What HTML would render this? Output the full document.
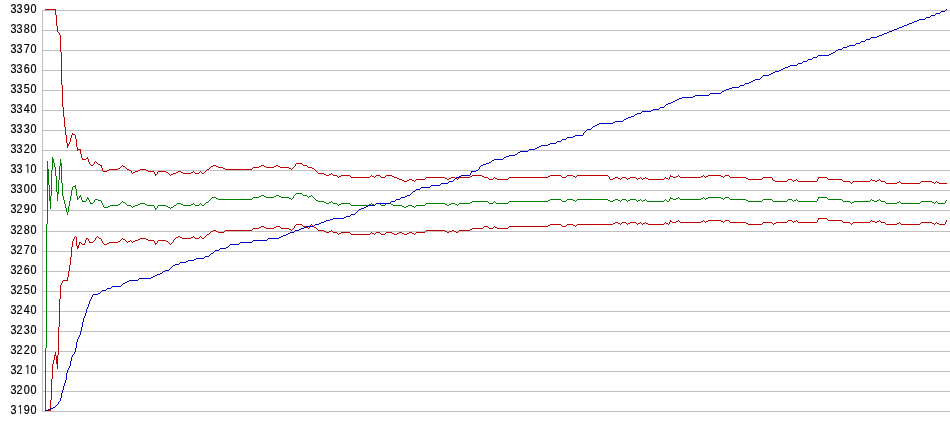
<!DOCTYPE html>
<html><head><meta charset="utf-8"><title>Chart</title>
<style>
html,body{margin:0;padding:0;background:#fff;}
body{width:950px;height:435px;overflow:hidden;}
svg{display:block;}
text{font-family:"Liberation Sans",Arial,sans-serif;font-size:12px;fill:#000;}
.one{font-family:"NanumGothic","Liberation Sans",sans-serif;}
</style></head>
<body>
<svg width="950" height="435" viewBox="0 0 950 435" shape-rendering="crispEdges">
<rect x="0" y="0" width="950" height="435" fill="#fff"/>
<path fill="#c0c0c0" d="M42 10h908v1h-908zM42 30h908v1h-908zM42 50h908v1h-908zM42 70h908v1h-908zM42 90h908v1h-908zM42 110h908v1h-908zM42 130h908v1h-908zM42 150h908v1h-908zM42 170h908v1h-908zM42 190h908v1h-908zM42 210h908v1h-908zM42 231h908v1h-908zM42 251h908v1h-908zM42 271h908v1h-908zM42 291h908v1h-908zM42 311h908v1h-908zM42 331h908v1h-908zM42 351h908v1h-908zM42 371h908v1h-908zM42 391h908v1h-908zM42 411h908v1h-908zM42 10h1v402h-1z"/>
<g transform="scale(0.9,1)" stroke="#000" stroke-width="0.2">
<text x="11.56 18.41 26.38 33.79" y="13">3390</text>
<text x="11.56 18.41 26.38 33.79" y="33">3380</text>
<text x="11.56 18.41 26.38 33.79" y="53">3370</text>
<text x="11.56 18.41 26.38 33.79" y="73">3360</text>
<text x="11.56 18.41 26.38 33.79" y="93">3350</text>
<text x="11.56 18.41 26.38 33.79" y="113">3340</text>
<text x="11.56 18.41 26.38 33.79" y="133">3330</text>
<text x="11.56 18.41 26.38 33.79" y="153">3320</text>
<text x="11.56 18.41 26.88 33.79" y="173">33<tspan class="one">1</tspan>0</text>
<text x="11.56 18.41 26.38 33.79" y="193">3300</text>
<text x="11.56 18.41 26.38 33.79" y="213">3290</text>
<text x="11.56 18.41 26.38 33.79" y="234">3280</text>
<text x="11.56 18.41 26.38 33.79" y="254">3270</text>
<text x="11.56 18.41 26.38 33.79" y="274">3260</text>
<text x="11.56 18.41 26.38 33.79" y="294">3250</text>
<text x="11.56 18.41 26.38 33.79" y="314">3240</text>
<text x="11.56 18.41 26.38 33.79" y="334">3230</text>
<text x="11.56 18.41 26.38 33.79" y="354">3220</text>
<text x="11.56 18.41 26.88 33.79" y="374">32<tspan class="one">1</tspan>0</text>
<text x="11.56 18.41 26.38 33.79" y="394">3200</text>
<text x="11.56 18.91 26.38 33.79" y="414">3<tspan class="one">1</tspan>90</text>
</g>
<path fill="#c00000" d="M45 9h11v1h-11zM55 10h1v1h-1zM55 11h1v1h-1zM55 12h1v1h-1zM55 13h1v1h-1zM55 14h1v1h-1zM56 15h1v1h-1zM56 16h1v1h-1zM56 17h1v1h-1zM56 18h1v1h-1zM56 19h1v1h-1zM56 20h1v1h-1zM56 21h1v1h-1zM56 22h1v1h-1zM56 23h1v1h-1zM56 24h1v1h-1zM56 25h1v1h-1zM57 26h1v1h-1zM57 27h1v1h-1zM57 28h1v1h-1zM57 29h1v1h-1zM57 30h1v1h-1zM57 31h1v1h-1zM58 32h1v1h-1zM59 33h1v1h-1zM59 34h1v1h-1zM60 35h1v1h-1zM60 36h1v1h-1zM60 37h1v1h-1zM60 38h1v1h-1zM60 39h1v1h-1zM60 40h1v1h-1zM60 41h1v1h-1zM60 42h1v1h-1zM60 43h1v1h-1zM60 44h1v1h-1zM60 45h1v1h-1zM60 46h1v1h-1zM60 47h1v1h-1zM60 48h1v1h-1zM60 49h1v1h-1zM60 50h1v1h-1zM60 51h1v1h-1zM61 52h1v1h-1zM61 53h1v1h-1zM61 54h1v1h-1zM61 55h1v1h-1zM61 56h1v1h-1zM61 57h1v1h-1zM61 58h1v1h-1zM61 59h1v1h-1zM61 60h1v1h-1zM61 61h1v1h-1zM61 62h1v1h-1zM61 63h1v1h-1zM61 64h1v1h-1zM61 65h1v1h-1zM61 66h1v1h-1zM61 67h1v1h-1zM61 68h1v1h-1zM61 69h1v1h-1zM61 70h1v1h-1zM61 71h1v1h-1zM61 72h1v1h-1zM61 73h1v1h-1zM61 74h1v1h-1zM61 75h1v1h-1zM61 76h1v1h-1zM61 77h1v1h-1zM61 78h1v1h-1zM61 79h1v1h-1zM61 80h1v1h-1zM61 81h1v1h-1zM61 82h1v1h-1zM61 83h1v1h-1zM61 84h1v1h-1zM62 85h1v1h-1zM62 86h1v1h-1zM62 87h1v1h-1zM62 88h1v1h-1zM62 89h1v1h-1zM62 90h1v1h-1zM62 91h1v1h-1zM62 92h1v1h-1zM62 93h1v1h-1zM62 94h1v1h-1zM62 95h1v1h-1zM62 96h1v1h-1zM62 97h1v1h-1zM62 98h1v1h-1zM62 99h1v1h-1zM62 100h1v1h-1zM62 101h1v1h-1zM62 102h1v1h-1zM62 103h1v1h-1zM62 104h1v1h-1zM62 105h1v1h-1zM62 106h1v1h-1zM63 107h1v1h-1zM63 108h1v1h-1zM63 109h1v1h-1zM63 110h1v1h-1zM63 111h1v1h-1zM63 112h1v1h-1zM63 113h1v1h-1zM63 114h1v1h-1zM63 115h1v1h-1zM63 116h1v1h-1zM64 117h1v1h-1zM64 118h1v1h-1zM64 119h1v1h-1zM64 120h1v1h-1zM64 121h1v1h-1zM64 122h1v1h-1zM64 123h1v1h-1zM64 124h1v1h-1zM64 125h1v1h-1zM64 126h1v1h-1zM65 127h1v1h-1zM65 128h1v1h-1zM65 129h1v1h-1zM65 130h1v1h-1zM65 131h1v1h-1zM65 132h1v1h-1zM65 133h1v1h-1zM72 133h1v1h-1zM65 134h1v1h-1zM72 134h3v1h-3zM66 135h1v1h-1zM71 135h1v1h-1zM75 135h1v1h-1zM66 136h1v1h-1zM71 136h1v1h-1zM75 136h1v1h-1zM66 137h1v1h-1zM71 137h1v1h-1zM75 137h1v1h-1zM66 138h1v1h-1zM70 138h1v1h-1zM75 138h1v1h-1zM66 139h1v1h-1zM70 139h1v1h-1zM76 139h1v1h-1zM66 140h1v1h-1zM70 140h1v1h-1zM76 140h1v1h-1zM66 141h1v1h-1zM70 141h1v1h-1zM76 141h1v1h-1zM66 142h1v1h-1zM69 142h1v1h-1zM76 142h1v1h-1zM67 143h1v1h-1zM69 143h1v1h-1zM76 143h1v1h-1zM67 144h2v1h-2zM76 144h1v1h-1zM67 145h2v1h-2zM76 145h1v1h-1zM67 146h1v1h-1zM76 146h1v1h-1zM67 147h1v1h-1zM77 147h1v1h-1zM77 148h1v1h-1zM77 149h4v1h-4zM77 150h1v1h-1zM80 150h1v1h-1zM80 151h1v1h-1zM80 152h1v1h-1zM80 153h1v1h-1zM81 154h1v1h-1zM81 155h1v1h-1zM81 156h1v1h-1zM81 157h1v1h-1zM87 157h1v1h-1zM82 158h1v1h-1zM86 158h2v1h-2zM82 159h4v1h-4zM88 159h1v1h-1zM88 160h1v1h-1zM88 161h1v1h-1zM95 161h1v1h-1zM89 162h1v1h-1zM94 162h1v1h-1zM96 162h1v1h-1zM89 163h1v1h-1zM94 163h1v1h-1zM97 163h1v1h-1zM296 163h6v1h-6zM90 164h1v1h-1zM93 164h1v1h-1zM98 164h2v1h-2zM295 164h1v1h-1zM302 164h1v1h-1zM91 165h2v1h-2zM100 165h2v1h-2zM122 165h1v1h-1zM213 165h3v1h-3zM261 165h3v1h-3zM276 165h2v1h-2zM295 165h1v1h-1zM303 165h4v1h-4zM101 166h1v1h-1zM121 166h1v1h-1zM123 166h2v1h-2zM211 166h2v1h-2zM216 166h2v1h-2zM259 166h2v1h-2zM264 166h2v1h-2zM274 166h2v1h-2zM278 166h2v1h-2zM294 166h1v1h-1zM307 166h1v1h-1zM101 167h1v1h-1zM120 167h1v1h-1zM125 167h1v1h-1zM210 167h1v1h-1zM218 167h5v1h-5zM253 167h6v1h-6zM266 167h8v1h-8zM280 167h9v1h-9zM293 167h1v1h-1zM308 167h4v1h-4zM102 168h1v1h-1zM118 168h2v1h-2zM126 168h1v1h-1zM209 168h1v1h-1zM223 168h2v1h-2zM252 168h1v1h-1zM289 168h2v1h-2zM292 168h1v1h-1zM312 168h2v1h-2zM102 169h1v1h-1zM109 169h9v1h-9zM127 169h2v1h-2zM140 169h6v1h-6zM207 169h2v1h-2zM225 169h27v1h-27zM291 169h1v1h-1zM314 169h1v1h-1zM102 170h1v1h-1zM107 170h2v1h-2zM129 170h2v1h-2zM138 170h2v1h-2zM146 170h2v1h-2zM206 170h1v1h-1zM315 170h1v1h-1zM103 171h4v1h-4zM131 171h1v1h-1zM135 171h3v1h-3zM148 171h6v1h-6zM158 171h8v1h-8zM178 171h3v1h-3zM193 171h1v1h-1zM200 171h1v1h-1zM205 171h1v1h-1zM316 171h1v1h-1zM131 172h1v1h-1zM133 172h2v1h-2zM154 172h1v1h-1zM157 172h1v1h-1zM166 172h2v1h-2zM176 172h2v1h-2zM181 172h2v1h-2zM191 172h2v1h-2zM194 172h1v1h-1zM199 172h1v1h-1zM201 172h1v1h-1zM204 172h1v1h-1zM317 172h1v1h-1zM132 173h1v1h-1zM154 173h1v1h-1zM157 173h1v1h-1zM168 173h1v1h-1zM173 173h3v1h-3zM183 173h8v1h-8zM195 173h4v1h-4zM202 173h2v1h-2zM318 173h6v1h-6zM331 173h1v1h-1zM155 174h2v1h-2zM169 174h1v1h-1zM171 174h2v1h-2zM324 174h2v1h-2zM329 174h2v1h-2zM332 174h1v1h-1zM155 175h1v1h-1zM170 175h1v1h-1zM326 175h3v1h-3zM333 175h4v1h-4zM341 175h9v1h-9zM371 175h1v1h-1zM376 175h4v1h-4zM386 175h6v1h-6zM472 175h10v1h-10zM550 175h11v1h-11zM567 175h6v1h-6zM577 175h31v1h-31zM670 175h1v1h-1zM678 175h1v1h-1zM703 175h1v1h-1zM708 175h13v1h-13zM725 175h4v1h-4zM337 176h1v1h-1zM339 176h2v1h-2zM350 176h1v1h-1zM370 176h1v1h-1zM372 176h2v1h-2zM375 176h1v1h-1zM380 176h1v1h-1zM385 176h1v1h-1zM392 176h2v1h-2zM470 176h2v1h-2zM482 176h2v1h-2zM548 176h2v1h-2zM561 176h1v1h-1zM566 176h1v1h-1zM573 176h2v1h-2zM576 176h1v1h-1zM608 176h1v1h-1zM670 176h3v1h-3zM676 176h2v1h-2zM679 176h1v1h-1zM701 176h2v1h-2zM704 176h1v1h-1zM706 176h2v1h-2zM721 176h2v1h-2zM724 176h1v1h-1zM729 176h1v1h-1zM338 177h1v1h-1zM351 177h19v1h-19zM374 177h1v1h-1zM381 177h4v1h-4zM394 177h3v1h-3zM426 177h19v1h-19zM451 177h4v1h-4zM459 177h11v1h-11zM484 177h4v1h-4zM494 177h1v1h-1zM509 177h39v1h-39zM562 177h4v1h-4zM575 177h1v1h-1zM609 177h1v1h-1zM615 177h3v1h-3zM622 177h4v1h-4zM630 177h6v1h-6zM640 177h1v1h-1zM645 177h1v1h-1zM665 177h1v1h-1zM669 177h1v1h-1zM673 177h3v1h-3zM680 177h21v1h-21zM705 177h1v1h-1zM723 177h1v1h-1zM730 177h16v1h-16zM763 177h9v1h-9zM818 177h9v1h-9zM397 178h2v1h-2zM425 178h1v1h-1zM445 178h2v1h-2zM449 178h2v1h-2zM455 178h2v1h-2zM458 178h1v1h-1zM488 178h1v1h-1zM493 178h1v1h-1zM495 178h2v1h-2zM508 178h1v1h-1zM609 178h1v1h-1zM613 178h2v1h-2zM618 178h2v1h-2zM621 178h1v1h-1zM626 178h1v1h-1zM628 178h2v1h-2zM636 178h1v1h-1zM638 178h2v1h-2zM641 178h1v1h-1zM643 178h2v1h-2zM646 178h2v1h-2zM664 178h1v1h-1zM666 178h2v1h-2zM669 178h1v1h-1zM746 178h2v1h-2zM762 178h1v1h-1zM772 178h1v1h-1zM818 178h1v1h-1zM827 178h1v1h-1zM399 179h3v1h-3zM409 179h3v1h-3zM416 179h9v1h-9zM447 179h2v1h-2zM457 179h1v1h-1zM489 179h4v1h-4zM497 179h11v1h-11zM610 179h3v1h-3zM620 179h1v1h-1zM627 179h1v1h-1zM637 179h1v1h-1zM642 179h1v1h-1zM648 179h16v1h-16zM668 179h1v1h-1zM748 179h14v1h-14zM772 179h1v1h-1zM788 179h4v1h-4zM796 179h1v1h-1zM817 179h1v1h-1zM828 179h14v1h-14zM871 179h1v1h-1zM879 179h1v1h-1zM402 180h2v1h-2zM407 180h2v1h-2zM412 180h2v1h-2zM415 180h1v1h-1zM773 180h2v1h-2zM787 180h1v1h-1zM792 180h1v1h-1zM794 180h2v1h-2zM797 180h1v1h-1zM817 180h1v1h-1zM842 180h1v1h-1zM870 180h1v1h-1zM872 180h3v1h-3zM877 180h2v1h-2zM880 180h1v1h-1zM404 181h3v1h-3zM414 181h1v1h-1zM775 181h12v1h-12zM793 181h1v1h-1zM798 181h19v1h-19zM843 181h7v1h-7zM853 181h17v1h-17zM875 181h2v1h-2zM881 181h4v1h-4zM899 181h1v1h-1zM921 181h11v1h-11zM936 181h1v1h-1zM850 182h1v1h-1zM852 182h1v1h-1zM885 182h1v1h-1zM897 182h2v1h-2zM900 182h1v1h-1zM920 182h1v1h-1zM932 182h2v1h-2zM935 182h1v1h-1zM937 182h2v1h-2zM851 183h1v1h-1zM886 183h11v1h-11zM901 183h19v1h-19zM934 183h1v1h-1zM939 183h8v1h-8z"/>
<path fill="#c00000" d="M818 218h9v1h-9zM818 219h1v1h-1zM827 219h1v1h-1zM670 220h1v1h-1zM678 220h1v1h-1zM703 220h1v1h-1zM708 220h13v1h-13zM725 220h4v1h-4zM788 220h4v1h-4zM796 220h1v1h-1zM817 220h1v1h-1zM828 220h14v1h-14zM871 220h1v1h-1zM879 220h1v1h-1zM946 220h1v1h-1zM670 221h2v1h-2zM676 221h2v1h-2zM679 221h1v1h-1zM701 221h2v1h-2zM704 221h1v1h-1zM706 221h2v1h-2zM721 221h2v1h-2zM724 221h1v1h-1zM729 221h1v1h-1zM787 221h1v1h-1zM792 221h1v1h-1zM794 221h2v1h-2zM797 221h1v1h-1zM817 221h1v1h-1zM842 221h1v1h-1zM870 221h1v1h-1zM872 221h3v1h-3zM877 221h2v1h-2zM880 221h1v1h-1zM946 221h1v1h-1zM615 222h3v1h-3zM622 222h4v1h-4zM630 222h6v1h-6zM640 222h1v1h-1zM645 222h1v1h-1zM665 222h1v1h-1zM669 222h1v1h-1zM672 222h4v1h-4zM680 222h21v1h-21zM705 222h1v1h-1zM723 222h1v1h-1zM730 222h16v1h-16zM763 222h9v1h-9zM776 222h11v1h-11zM793 222h1v1h-1zM798 222h19v1h-19zM843 222h7v1h-7zM853 222h17v1h-17zM875 222h2v1h-2zM881 222h4v1h-4zM899 222h1v1h-1zM921 222h11v1h-11zM936 222h1v1h-1zM945 222h1v1h-1zM613 223h2v1h-2zM618 223h2v1h-2zM621 223h1v1h-1zM626 223h1v1h-1zM628 223h2v1h-2zM636 223h1v1h-1zM638 223h2v1h-2zM641 223h1v1h-1zM643 223h2v1h-2zM646 223h2v1h-2zM664 223h1v1h-1zM666 223h2v1h-2zM669 223h1v1h-1zM746 223h2v1h-2zM762 223h1v1h-1zM772 223h1v1h-1zM774 223h2v1h-2zM850 223h1v1h-1zM852 223h1v1h-1zM885 223h1v1h-1zM897 223h2v1h-2zM900 223h1v1h-1zM920 223h1v1h-1zM932 223h2v1h-2zM935 223h1v1h-1zM937 223h2v1h-2zM945 223h1v1h-1zM296 224h6v1h-6zM311 224h1v1h-1zM550 224h11v1h-11zM567 224h6v1h-6zM577 224h36v1h-36zM620 224h1v1h-1zM627 224h1v1h-1zM637 224h1v1h-1zM642 224h1v1h-1zM648 224h16v1h-16zM668 224h1v1h-1zM748 224h14v1h-14zM773 224h1v1h-1zM851 224h1v1h-1zM886 224h11v1h-11zM901 224h19v1h-19zM934 224h1v1h-1zM939 224h6v1h-6zM295 225h1v1h-1zM302 225h1v1h-1zM310 225h1v1h-1zM312 225h1v1h-1zM548 225h2v1h-2zM561 225h1v1h-1zM566 225h1v1h-1zM573 225h2v1h-2zM576 225h1v1h-1zM261 226h3v1h-3zM276 226h4v1h-4zM294 226h1v1h-1zM303 226h3v1h-3zM310 226h1v1h-1zM313 226h1v1h-1zM484 226h4v1h-4zM494 226h1v1h-1zM509 226h39v1h-39zM562 226h4v1h-4zM575 226h1v1h-1zM259 227h2v1h-2zM264 227h2v1h-2zM274 227h2v1h-2zM280 227h1v1h-1zM294 227h1v1h-1zM306 227h2v1h-2zM309 227h1v1h-1zM314 227h2v1h-2zM483 227h1v1h-1zM488 227h1v1h-1zM493 227h1v1h-1zM495 227h2v1h-2zM508 227h1v1h-1zM253 228h6v1h-6zM266 228h8v1h-8zM281 228h8v1h-8zM293 228h1v1h-1zM308 228h1v1h-1zM316 228h1v1h-1zM472 228h11v1h-11zM489 228h4v1h-4zM497 228h11v1h-11zM252 229h1v1h-1zM289 229h2v1h-2zM292 229h1v1h-1zM317 229h1v1h-1zM470 229h2v1h-2zM213 230h3v1h-3zM225 230h27v1h-27zM291 230h1v1h-1zM318 230h6v1h-6zM331 230h1v1h-1zM426 230h19v1h-19zM452 230h2v1h-2zM459 230h11v1h-11zM211 231h2v1h-2zM216 231h2v1h-2zM224 231h1v1h-1zM324 231h2v1h-2zM329 231h2v1h-2zM332 231h1v1h-1zM425 231h1v1h-1zM445 231h2v1h-2zM449 231h3v1h-3zM454 231h2v1h-2zM458 231h1v1h-1zM210 232h1v1h-1zM218 232h6v1h-6zM326 232h3v1h-3zM333 232h4v1h-4zM341 232h9v1h-9zM371 232h1v1h-1zM376 232h4v1h-4zM386 232h6v1h-6zM399 232h3v1h-3zM409 232h3v1h-3zM416 232h9v1h-9zM447 232h2v1h-2zM456 232h2v1h-2zM209 233h1v1h-1zM337 233h1v1h-1zM339 233h2v1h-2zM350 233h1v1h-1zM370 233h1v1h-1zM372 233h2v1h-2zM375 233h1v1h-1zM380 233h1v1h-1zM385 233h1v1h-1zM392 233h2v1h-2zM397 233h2v1h-2zM402 233h2v1h-2zM407 233h2v1h-2zM412 233h2v1h-2zM415 233h1v1h-1zM207 234h2v1h-2zM338 234h1v1h-1zM351 234h19v1h-19zM374 234h1v1h-1zM381 234h4v1h-4zM394 234h3v1h-3zM404 234h3v1h-3zM414 234h1v1h-1zM206 235h1v1h-1zM75 236h1v1h-1zM97 236h1v1h-1zM178 236h2v1h-2zM193 236h1v1h-1zM200 236h1v1h-1zM205 236h1v1h-1zM74 237h1v1h-1zM76 237h1v1h-1zM96 237h1v1h-1zM98 237h1v1h-1zM176 237h2v1h-2zM180 237h2v1h-2zM191 237h2v1h-2zM194 237h1v1h-1zM199 237h1v1h-1zM201 237h1v1h-1zM204 237h1v1h-1zM74 238h1v1h-1zM76 238h1v1h-1zM86 238h2v1h-2zM95 238h1v1h-1zM99 238h2v1h-2zM122 238h1v1h-1zM140 238h6v1h-6zM175 238h1v1h-1zM182 238h9v1h-9zM195 238h4v1h-4zM202 238h2v1h-2zM73 239h1v1h-1zM76 239h1v1h-1zM86 239h1v1h-1zM88 239h1v1h-1zM95 239h1v1h-1zM101 239h1v1h-1zM121 239h1v1h-1zM123 239h2v1h-2zM138 239h2v1h-2zM146 239h2v1h-2zM174 239h1v1h-1zM73 240h1v1h-1zM76 240h1v1h-1zM85 240h1v1h-1zM88 240h1v1h-1zM94 240h1v1h-1zM101 240h1v1h-1zM120 240h1v1h-1zM125 240h1v1h-1zM130 240h1v1h-1zM135 240h3v1h-3zM148 240h6v1h-6zM158 240h8v1h-8zM173 240h1v1h-1zM72 241h1v1h-1zM76 241h1v1h-1zM85 241h1v1h-1zM89 241h1v1h-1zM93 241h1v1h-1zM102 241h1v1h-1zM118 241h2v1h-2zM126 241h1v1h-1zM128 241h2v1h-2zM131 241h1v1h-1zM133 241h2v1h-2zM154 241h1v1h-1zM157 241h1v1h-1zM166 241h2v1h-2zM173 241h1v1h-1zM72 242h1v1h-1zM76 242h1v1h-1zM79 242h2v1h-2zM85 242h1v1h-1zM89 242h4v1h-4zM102 242h1v1h-1zM109 242h9v1h-9zM127 242h1v1h-1zM132 242h1v1h-1zM154 242h1v1h-1zM157 242h1v1h-1zM168 242h1v1h-1zM172 242h1v1h-1zM72 243h1v1h-1zM76 243h1v1h-1zM79 243h1v1h-1zM81 243h1v1h-1zM84 243h1v1h-1zM103 243h1v1h-1zM107 243h2v1h-2zM155 243h2v1h-2zM169 243h1v1h-1zM171 243h1v1h-1zM72 244h1v1h-1zM76 244h1v1h-1zM79 244h1v1h-1zM82 244h3v1h-3zM104 244h3v1h-3zM155 244h1v1h-1zM170 244h1v1h-1zM72 245h1v1h-1zM76 245h1v1h-1zM78 245h1v1h-1zM72 246h1v1h-1zM77 246h2v1h-2zM71 247h1v1h-1zM77 247h2v1h-2zM71 248h1v1h-1zM77 248h1v1h-1zM71 249h1v1h-1zM71 250h1v1h-1zM71 251h1v1h-1zM71 252h1v1h-1zM71 253h1v1h-1zM71 254h1v1h-1zM71 255h1v1h-1zM71 256h1v1h-1zM70 257h1v1h-1zM70 258h1v1h-1zM70 259h1v1h-1zM70 260h1v1h-1zM70 261h1v1h-1zM70 262h1v1h-1zM70 263h1v1h-1zM70 264h1v1h-1zM69 265h1v1h-1zM69 266h1v1h-1zM69 267h1v1h-1zM69 268h1v1h-1zM69 269h1v1h-1zM69 270h1v1h-1zM68 271h1v1h-1zM68 272h1v1h-1zM68 273h1v1h-1zM68 274h1v1h-1zM68 275h1v1h-1zM68 276h1v1h-1zM67 277h1v1h-1zM67 278h1v1h-1zM67 279h1v1h-1zM63 280h5v1h-5zM62 281h1v1h-1zM62 282h1v1h-1zM61 283h1v1h-1zM61 284h1v1h-1zM60 285h1v1h-1zM60 286h1v1h-1zM60 287h1v1h-1zM60 288h1v1h-1zM60 289h1v1h-1zM60 290h1v1h-1zM60 291h1v1h-1zM60 292h1v1h-1zM60 293h1v1h-1zM60 294h1v1h-1zM60 295h1v1h-1zM60 296h1v1h-1zM60 297h1v1h-1zM60 298h1v1h-1zM59 299h1v1h-1zM59 300h1v1h-1zM59 301h1v1h-1zM59 302h1v1h-1zM59 303h1v1h-1zM59 304h1v1h-1zM59 305h1v1h-1zM59 306h1v1h-1zM59 307h1v1h-1zM59 308h1v1h-1zM59 309h1v1h-1zM59 310h1v1h-1zM59 311h1v1h-1zM59 312h1v1h-1zM59 313h1v1h-1zM59 314h1v1h-1zM59 315h1v1h-1zM59 316h1v1h-1zM59 317h1v1h-1zM59 318h1v1h-1zM59 319h1v1h-1zM59 320h1v1h-1zM59 321h1v1h-1zM59 322h1v1h-1zM59 323h1v1h-1zM59 324h1v1h-1zM59 325h1v1h-1zM59 326h1v1h-1zM58 327h1v1h-1zM58 328h1v1h-1zM58 329h1v1h-1zM58 330h1v1h-1zM58 331h1v1h-1zM58 332h1v1h-1zM58 333h1v1h-1zM58 334h1v1h-1zM58 335h1v1h-1zM58 336h1v1h-1zM58 337h1v1h-1zM58 338h1v1h-1zM58 339h1v1h-1zM58 340h1v1h-1zM58 341h1v1h-1zM58 342h1v1h-1zM58 343h1v1h-1zM58 344h1v1h-1zM58 345h1v1h-1zM58 346h1v1h-1zM58 347h1v1h-1zM58 348h1v1h-1zM58 349h1v1h-1zM58 350h1v1h-1zM58 351h1v1h-1zM55 352h1v1h-1zM58 352h1v1h-1zM55 353h1v1h-1zM58 353h1v1h-1zM55 354h1v1h-1zM58 354h1v1h-1zM54 355h2v1h-2zM57 355h1v1h-1zM54 356h1v1h-1zM56 356h2v1h-2zM54 357h1v1h-1zM56 357h2v1h-2zM54 358h1v1h-1zM56 358h2v1h-2zM54 359h1v1h-1zM56 359h2v1h-2zM53 360h1v1h-1zM56 360h2v1h-2zM53 361h1v1h-1zM56 361h2v1h-2zM53 362h1v1h-1zM56 362h2v1h-2zM53 363h1v1h-1zM56 363h2v1h-2zM52 364h1v1h-1zM57 364h1v1h-1zM52 365h1v1h-1zM57 365h1v1h-1zM52 366h1v1h-1zM57 366h1v1h-1zM52 367h1v1h-1zM57 367h1v1h-1zM52 368h1v1h-1zM57 368h1v1h-1zM52 369h1v1h-1zM52 370h1v1h-1zM52 371h1v1h-1zM52 372h1v1h-1zM52 373h1v1h-1zM52 374h1v1h-1zM52 375h1v1h-1zM52 376h1v1h-1zM52 377h1v1h-1zM52 378h1v1h-1zM51 379h1v1h-1zM51 380h1v1h-1zM51 381h1v1h-1zM51 382h1v1h-1zM51 383h1v1h-1zM51 384h1v1h-1zM51 385h1v1h-1zM51 386h1v1h-1zM51 387h1v1h-1zM51 388h1v1h-1zM51 389h1v1h-1zM51 390h1v1h-1zM51 391h1v1h-1zM51 392h1v1h-1zM51 393h1v1h-1zM51 394h1v1h-1zM51 395h1v1h-1zM51 396h1v1h-1zM51 397h1v1h-1zM51 398h1v1h-1zM51 399h1v1h-1zM50 400h1v1h-1zM50 401h1v1h-1zM50 402h1v1h-1zM50 403h1v1h-1zM50 404h1v1h-1zM50 405h1v1h-1zM50 406h1v1h-1zM50 407h1v1h-1zM50 408h1v1h-1zM50 409h1v1h-1zM45 410h6v1h-6z"/>
<path fill="#008000" d="M52 157h1v1h-1zM52 158h1v1h-1zM52 159h2v1h-2zM60 159h1v1h-1zM52 160h2v1h-2zM60 160h1v1h-1zM47 161h1v1h-1zM52 161h2v1h-2zM60 161h1v1h-1zM47 162h1v1h-1zM52 162h2v1h-2zM60 162h1v1h-1zM47 163h1v1h-1zM52 163h1v1h-1zM54 163h1v1h-1zM60 163h2v1h-2zM47 164h1v1h-1zM52 164h1v1h-1zM54 164h1v1h-1zM60 164h2v1h-2zM47 165h1v1h-1zM52 165h1v1h-1zM54 165h1v1h-1zM60 165h2v1h-2zM47 166h1v1h-1zM52 166h1v1h-1zM54 166h1v1h-1zM59 166h1v1h-1zM61 166h1v1h-1zM47 167h1v1h-1zM52 167h1v1h-1zM55 167h1v1h-1zM59 167h1v1h-1zM61 167h1v1h-1zM47 168h1v1h-1zM52 168h1v1h-1zM55 168h1v1h-1zM59 168h1v1h-1zM61 168h1v1h-1zM47 169h2v1h-2zM52 169h1v1h-1zM55 169h1v1h-1zM59 169h1v1h-1zM61 169h1v1h-1zM47 170h2v1h-2zM51 170h1v1h-1zM55 170h1v1h-1zM59 170h1v1h-1zM61 170h1v1h-1zM47 171h2v1h-2zM51 171h1v1h-1zM55 171h1v1h-1zM59 171h1v1h-1zM61 171h1v1h-1zM47 172h2v1h-2zM51 172h1v1h-1zM55 172h1v1h-1zM59 172h1v1h-1zM61 172h1v1h-1zM47 173h2v1h-2zM51 173h1v1h-1zM55 173h1v1h-1zM59 173h1v1h-1zM61 173h1v1h-1zM47 174h2v1h-2zM51 174h1v1h-1zM55 174h1v1h-1zM59 174h1v1h-1zM61 174h1v1h-1zM47 175h2v1h-2zM51 175h1v1h-1zM55 175h1v1h-1zM59 175h1v1h-1zM61 175h1v1h-1zM47 176h2v1h-2zM51 176h1v1h-1zM56 176h1v1h-1zM59 176h1v1h-1zM61 176h1v1h-1zM47 177h2v1h-2zM51 177h1v1h-1zM56 177h1v1h-1zM59 177h1v1h-1zM61 177h1v1h-1zM47 178h2v1h-2zM51 178h1v1h-1zM56 178h1v1h-1zM59 178h1v1h-1zM61 178h1v1h-1zM47 179h2v1h-2zM51 179h1v1h-1zM56 179h1v1h-1zM59 179h1v1h-1zM61 179h1v1h-1zM47 180h2v1h-2zM51 180h1v1h-1zM56 180h1v1h-1zM58 180h1v1h-1zM61 180h1v1h-1zM47 181h2v1h-2zM51 181h1v1h-1zM56 181h1v1h-1zM58 181h1v1h-1zM61 181h1v1h-1zM47 182h2v1h-2zM51 182h1v1h-1zM56 182h1v1h-1zM58 182h1v1h-1zM61 182h1v1h-1zM47 183h2v1h-2zM51 183h1v1h-1zM56 183h1v1h-1zM58 183h1v1h-1zM62 183h1v1h-1zM47 184h2v1h-2zM51 184h1v1h-1zM56 184h1v1h-1zM58 184h1v1h-1zM62 184h1v1h-1zM47 185h1v1h-1zM49 185h1v1h-1zM51 185h1v1h-1zM56 185h1v1h-1zM58 185h1v1h-1zM62 185h1v1h-1zM75 185h1v1h-1zM47 186h1v1h-1zM49 186h1v1h-1zM51 186h1v1h-1zM56 186h1v1h-1zM58 186h1v1h-1zM62 186h1v1h-1zM73 186h3v1h-3zM47 187h1v1h-1zM49 187h1v1h-1zM51 187h1v1h-1zM56 187h1v1h-1zM58 187h1v1h-1zM62 187h1v1h-1zM72 187h1v1h-1zM75 187h1v1h-1zM47 188h1v1h-1zM49 188h1v1h-1zM51 188h1v1h-1zM56 188h1v1h-1zM58 188h1v1h-1zM62 188h1v1h-1zM72 188h1v1h-1zM75 188h1v1h-1zM47 189h1v1h-1zM49 189h1v1h-1zM51 189h1v1h-1zM56 189h1v1h-1zM58 189h1v1h-1zM62 189h1v1h-1zM72 189h1v1h-1zM76 189h1v1h-1zM47 190h1v1h-1zM49 190h1v1h-1zM51 190h1v1h-1zM56 190h1v1h-1zM58 190h1v1h-1zM62 190h1v1h-1zM71 190h1v1h-1zM76 190h1v1h-1zM47 191h1v1h-1zM49 191h1v1h-1zM51 191h1v1h-1zM56 191h1v1h-1zM58 191h1v1h-1zM62 191h1v1h-1zM71 191h1v1h-1zM76 191h1v1h-1zM47 192h1v1h-1zM49 192h1v1h-1zM51 192h1v1h-1zM57 192h2v1h-2zM62 192h1v1h-1zM71 192h1v1h-1zM76 192h1v1h-1zM47 193h1v1h-1zM49 193h1v1h-1zM51 193h1v1h-1zM57 193h2v1h-2zM62 193h1v1h-1zM71 193h1v1h-1zM76 193h1v1h-1zM296 193h6v1h-6zM47 194h1v1h-1zM49 194h1v1h-1zM51 194h1v1h-1zM57 194h1v1h-1zM62 194h1v1h-1zM71 194h1v1h-1zM76 194h1v1h-1zM295 194h1v1h-1zM302 194h1v1h-1zM47 195h1v1h-1zM49 195h1v1h-1zM51 195h1v1h-1zM57 195h1v1h-1zM62 195h1v1h-1zM71 195h1v1h-1zM76 195h1v1h-1zM80 195h1v1h-1zM261 195h3v1h-3zM276 195h3v1h-3zM294 195h1v1h-1zM303 195h4v1h-4zM311 195h1v1h-1zM47 196h1v1h-1zM49 196h2v1h-2zM57 196h1v1h-1zM63 196h1v1h-1zM70 196h1v1h-1zM77 196h1v1h-1zM79 196h2v1h-2zM259 196h2v1h-2zM264 196h2v1h-2zM274 196h2v1h-2zM279 196h2v1h-2zM293 196h1v1h-1zM307 196h1v1h-1zM309 196h2v1h-2zM312 196h1v1h-1zM47 197h1v1h-1zM49 197h2v1h-2zM57 197h1v1h-1zM63 197h1v1h-1zM70 197h1v1h-1zM77 197h1v1h-1zM79 197h1v1h-1zM81 197h1v1h-1zM87 197h1v1h-1zM212 197h4v1h-4zM253 197h6v1h-6zM266 197h8v1h-8zM281 197h8v1h-8zM293 197h1v1h-1zM308 197h1v1h-1zM313 197h1v1h-1zM670 197h1v1h-1zM678 197h1v1h-1zM703 197h1v1h-1zM708 197h13v1h-13zM725 197h4v1h-4zM818 197h9v1h-9zM47 198h1v1h-1zM49 198h2v1h-2zM57 198h1v1h-1zM63 198h1v1h-1zM70 198h1v1h-1zM77 198h2v1h-2zM81 198h1v1h-1zM87 198h2v1h-2zM211 198h1v1h-1zM216 198h2v1h-2zM252 198h1v1h-1zM289 198h2v1h-2zM292 198h1v1h-1zM314 198h1v1h-1zM670 198h3v1h-3zM676 198h2v1h-2zM679 198h1v1h-1zM701 198h2v1h-2zM704 198h1v1h-1zM706 198h2v1h-2zM721 198h2v1h-2zM724 198h1v1h-1zM729 198h1v1h-1zM818 198h1v1h-1zM827 198h1v1h-1zM47 199h1v1h-1zM49 199h2v1h-2zM57 199h1v1h-1zM63 199h1v1h-1zM70 199h1v1h-1zM77 199h1v1h-1zM81 199h1v1h-1zM86 199h1v1h-1zM88 199h1v1h-1zM95 199h3v1h-3zM210 199h1v1h-1zM218 199h34v1h-34zM291 199h1v1h-1zM315 199h1v1h-1zM550 199h11v1h-11zM567 199h6v1h-6zM577 199h31v1h-31zM615 199h3v1h-3zM622 199h4v1h-4zM630 199h6v1h-6zM640 199h1v1h-1zM645 199h1v1h-1zM665 199h1v1h-1zM669 199h1v1h-1zM673 199h3v1h-3zM680 199h21v1h-21zM705 199h1v1h-1zM723 199h1v1h-1zM730 199h16v1h-16zM763 199h9v1h-9zM788 199h4v1h-4zM796 199h1v1h-1zM817 199h1v1h-1zM828 199h14v1h-14zM871 199h1v1h-1zM879 199h1v1h-1zM47 200h1v1h-1zM49 200h2v1h-2zM57 200h1v1h-1zM64 200h1v1h-1zM70 200h1v1h-1zM82 200h1v1h-1zM86 200h1v1h-1zM89 200h1v1h-1zM94 200h1v1h-1zM98 200h3v1h-3zM209 200h1v1h-1zM316 200h2v1h-2zM548 200h2v1h-2zM561 200h1v1h-1zM566 200h1v1h-1zM573 200h2v1h-2zM576 200h1v1h-1zM608 200h2v1h-2zM613 200h2v1h-2zM618 200h2v1h-2zM621 200h1v1h-1zM626 200h1v1h-1zM628 200h2v1h-2zM636 200h1v1h-1zM638 200h2v1h-2zM641 200h1v1h-1zM643 200h2v1h-2zM646 200h1v1h-1zM664 200h1v1h-1zM666 200h1v1h-1zM669 200h1v1h-1zM746 200h2v1h-2zM762 200h1v1h-1zM772 200h1v1h-1zM787 200h1v1h-1zM792 200h1v1h-1zM794 200h2v1h-2zM797 200h1v1h-1zM817 200h1v1h-1zM842 200h1v1h-1zM870 200h1v1h-1zM872 200h2v1h-2zM877 200h2v1h-2zM880 200h1v1h-1zM946 200h1v1h-1zM47 201h1v1h-1zM50 201h1v1h-1zM64 201h1v1h-1zM69 201h1v1h-1zM82 201h4v1h-4zM89 201h1v1h-1zM94 201h1v1h-1zM101 201h1v1h-1zM122 201h1v1h-1zM208 201h1v1h-1zM318 201h6v1h-6zM331 201h1v1h-1zM472 201h16v1h-16zM494 201h1v1h-1zM509 201h39v1h-39zM562 201h4v1h-4zM575 201h1v1h-1zM610 201h3v1h-3zM620 201h1v1h-1zM627 201h1v1h-1zM637 201h1v1h-1zM642 201h1v1h-1zM647 201h17v1h-17zM667 201h2v1h-2zM748 201h14v1h-14zM773 201h14v1h-14zM793 201h1v1h-1zM798 201h19v1h-19zM843 201h7v1h-7zM854 201h16v1h-16zM874 201h3v1h-3zM881 201h4v1h-4zM899 201h1v1h-1zM921 201h11v1h-11zM936 201h1v1h-1zM945 201h1v1h-1zM47 202h1v1h-1zM50 202h1v1h-1zM64 202h1v1h-1zM69 202h1v1h-1zM90 202h1v1h-1zM93 202h1v1h-1zM101 202h1v1h-1zM121 202h1v1h-1zM123 202h2v1h-2zM206 202h2v1h-2zM324 202h2v1h-2zM329 202h2v1h-2zM332 202h1v1h-1zM470 202h2v1h-2zM488 202h1v1h-1zM493 202h1v1h-1zM495 202h1v1h-1zM508 202h1v1h-1zM850 202h1v1h-1zM852 202h2v1h-2zM885 202h1v1h-1zM897 202h2v1h-2zM900 202h1v1h-1zM920 202h1v1h-1zM932 202h2v1h-2zM935 202h1v1h-1zM937 202h1v1h-1zM945 202h1v1h-1zM47 203h1v1h-1zM50 203h1v1h-1zM64 203h1v1h-1zM69 203h1v1h-1zM90 203h3v1h-3zM102 203h1v1h-1zM120 203h1v1h-1zM125 203h1v1h-1zM140 203h5v1h-5zM177 203h4v1h-4zM193 203h1v1h-1zM200 203h1v1h-1zM205 203h1v1h-1zM326 203h3v1h-3zM333 203h4v1h-4zM341 203h9v1h-9zM371 203h1v1h-1zM376 203h4v1h-4zM386 203h5v1h-5zM426 203h19v1h-19zM451 203h4v1h-4zM459 203h11v1h-11zM489 203h4v1h-4zM496 203h12v1h-12zM851 203h1v1h-1zM886 203h11v1h-11zM901 203h19v1h-19zM934 203h1v1h-1zM938 203h7v1h-7zM47 204h1v1h-1zM50 204h1v1h-1zM65 204h1v1h-1zM69 204h1v1h-1zM102 204h1v1h-1zM118 204h2v1h-2zM126 204h1v1h-1zM138 204h2v1h-2zM145 204h2v1h-2zM176 204h1v1h-1zM181 204h2v1h-2zM191 204h2v1h-2zM194 204h1v1h-1zM199 204h1v1h-1zM201 204h1v1h-1zM204 204h1v1h-1zM337 204h1v1h-1zM339 204h2v1h-2zM350 204h1v1h-1zM369 204h2v1h-2zM372 204h2v1h-2zM375 204h1v1h-1zM380 204h1v1h-1zM385 204h1v1h-1zM391 204h2v1h-2zM425 204h1v1h-1zM445 204h2v1h-2zM449 204h2v1h-2zM455 204h2v1h-2zM458 204h1v1h-1zM47 205h1v1h-1zM50 205h1v1h-1zM65 205h1v1h-1zM69 205h1v1h-1zM103 205h1v1h-1zM110 205h8v1h-8zM127 205h4v1h-4zM135 205h3v1h-3zM147 205h7v1h-7zM158 205h8v1h-8zM174 205h2v1h-2zM183 205h8v1h-8zM195 205h4v1h-4zM202 205h2v1h-2zM338 205h1v1h-1zM351 205h18v1h-18zM374 205h1v1h-1zM381 205h4v1h-4zM393 205h9v1h-9zM408 205h4v1h-4zM416 205h9v1h-9zM447 205h2v1h-2zM457 205h1v1h-1zM47 206h1v1h-1zM50 206h1v1h-1zM65 206h1v1h-1zM68 206h1v1h-1zM103 206h1v1h-1zM108 206h2v1h-2zM131 206h1v1h-1zM133 206h2v1h-2zM154 206h1v1h-1zM157 206h1v1h-1zM166 206h2v1h-2zM173 206h1v1h-1zM402 206h2v1h-2zM406 206h2v1h-2zM412 206h2v1h-2zM415 206h1v1h-1zM47 207h1v1h-1zM50 207h1v1h-1zM65 207h1v1h-1zM68 207h1v1h-1zM104 207h4v1h-4zM132 207h1v1h-1zM154 207h1v1h-1zM157 207h1v1h-1zM168 207h2v1h-2zM171 207h2v1h-2zM404 207h2v1h-2zM414 207h1v1h-1zM47 208h1v1h-1zM50 208h1v1h-1zM66 208h1v1h-1zM68 208h1v1h-1zM155 208h2v1h-2zM170 208h1v1h-1zM47 209h1v1h-1zM66 209h1v1h-1zM68 209h1v1h-1zM155 209h1v1h-1zM47 210h1v1h-1zM66 210h1v1h-1zM68 210h1v1h-1zM47 211h1v1h-1zM66 211h1v1h-1zM68 211h1v1h-1zM47 212h1v1h-1zM67 212h1v1h-1zM47 213h1v1h-1zM67 213h1v1h-1zM47 214h1v1h-1zM67 214h1v1h-1zM47 215h1v1h-1zM47 216h1v1h-1zM47 217h1v1h-1zM47 218h1v1h-1zM47 219h1v1h-1zM47 220h1v1h-1zM47 221h1v1h-1zM47 222h1v1h-1zM47 223h1v1h-1zM46 224h1v1h-1zM46 225h1v1h-1zM46 226h1v1h-1zM46 227h1v1h-1zM46 228h1v1h-1zM46 229h1v1h-1zM46 230h1v1h-1zM46 231h1v1h-1zM46 232h1v1h-1zM46 233h1v1h-1zM46 234h1v1h-1zM46 235h1v1h-1zM46 236h1v1h-1zM46 237h1v1h-1zM46 238h1v1h-1zM46 239h1v1h-1zM46 240h1v1h-1zM46 241h1v1h-1zM46 242h1v1h-1zM46 243h1v1h-1zM46 244h1v1h-1zM46 245h1v1h-1zM46 246h1v1h-1zM46 247h1v1h-1zM46 248h1v1h-1zM46 249h1v1h-1zM46 250h1v1h-1zM46 251h1v1h-1zM46 252h1v1h-1zM46 253h1v1h-1zM46 254h1v1h-1zM46 255h1v1h-1zM46 256h1v1h-1zM46 257h1v1h-1zM46 258h1v1h-1zM46 259h1v1h-1zM46 260h1v1h-1zM46 261h1v1h-1zM46 262h1v1h-1zM46 263h1v1h-1zM46 264h1v1h-1zM46 265h1v1h-1zM46 266h1v1h-1zM46 267h1v1h-1zM46 268h1v1h-1zM46 269h1v1h-1zM46 270h1v1h-1zM46 271h1v1h-1zM46 272h1v1h-1zM46 273h1v1h-1zM46 274h1v1h-1zM46 275h1v1h-1zM46 276h1v1h-1zM46 277h1v1h-1zM46 278h1v1h-1zM46 279h1v1h-1zM46 280h1v1h-1zM46 281h1v1h-1zM46 282h1v1h-1zM46 283h1v1h-1zM46 284h1v1h-1zM46 285h1v1h-1zM46 286h1v1h-1zM46 287h1v1h-1zM46 288h1v1h-1zM46 289h1v1h-1zM46 290h1v1h-1zM46 291h1v1h-1zM46 292h1v1h-1zM46 293h1v1h-1zM46 294h1v1h-1zM46 295h1v1h-1zM46 296h1v1h-1zM46 297h1v1h-1zM46 298h1v1h-1zM46 299h1v1h-1zM46 300h1v1h-1zM46 301h1v1h-1zM46 302h1v1h-1zM46 303h1v1h-1zM46 304h1v1h-1zM46 305h1v1h-1zM46 306h1v1h-1zM46 307h1v1h-1zM46 308h1v1h-1zM46 309h1v1h-1zM46 310h1v1h-1zM46 311h1v1h-1zM46 312h1v1h-1zM46 313h1v1h-1zM46 314h1v1h-1zM46 315h1v1h-1zM46 316h1v1h-1zM46 317h1v1h-1zM46 318h1v1h-1zM46 319h1v1h-1zM46 320h1v1h-1zM46 321h1v1h-1zM46 322h1v1h-1zM46 323h1v1h-1zM46 324h1v1h-1zM46 325h1v1h-1zM46 326h1v1h-1zM46 327h1v1h-1zM46 328h1v1h-1zM46 329h1v1h-1zM46 330h1v1h-1zM46 331h1v1h-1zM46 332h1v1h-1zM46 333h1v1h-1zM46 334h1v1h-1zM46 335h1v1h-1zM46 336h1v1h-1zM46 337h1v1h-1zM46 338h1v1h-1zM46 339h1v1h-1zM46 340h1v1h-1zM46 341h1v1h-1zM46 342h1v1h-1zM46 343h1v1h-1zM46 344h1v1h-1zM46 345h1v1h-1zM46 346h1v1h-1zM46 347h1v1h-1zM45 348h1v1h-1zM45 349h1v1h-1zM45 350h1v1h-1zM45 351h1v1h-1zM45 352h1v1h-1zM45 353h1v1h-1zM45 354h1v1h-1zM45 355h1v1h-1zM45 356h1v1h-1zM45 357h1v1h-1zM45 358h1v1h-1zM45 359h1v1h-1zM45 360h1v1h-1zM45 361h1v1h-1zM45 362h1v1h-1zM45 363h1v1h-1zM45 364h1v1h-1zM45 365h1v1h-1zM45 366h1v1h-1zM45 367h1v1h-1zM45 368h1v1h-1zM45 369h1v1h-1zM45 370h1v1h-1zM45 371h1v1h-1zM45 372h1v1h-1zM45 373h1v1h-1zM45 374h1v1h-1zM45 375h1v1h-1zM45 376h1v1h-1zM45 377h1v1h-1zM45 378h1v1h-1zM45 379h1v1h-1zM45 380h1v1h-1zM45 381h1v1h-1zM45 382h1v1h-1zM45 383h1v1h-1zM45 384h1v1h-1zM45 385h1v1h-1zM45 386h1v1h-1zM45 387h1v1h-1zM45 388h1v1h-1zM45 389h1v1h-1zM45 390h1v1h-1zM45 391h1v1h-1zM45 392h1v1h-1zM45 393h1v1h-1zM45 394h1v1h-1zM45 395h1v1h-1zM45 396h1v1h-1zM45 397h1v1h-1zM45 398h1v1h-1zM45 399h1v1h-1zM45 400h1v1h-1zM45 401h1v1h-1zM45 402h1v1h-1zM45 403h1v1h-1zM45 404h1v1h-1zM45 405h1v1h-1zM45 406h1v1h-1zM45 407h1v1h-1zM45 408h1v1h-1zM45 409h1v1h-1zM45 410h1v1h-1z"/>
<path fill="#0000c0" d="M946 9h1v1h-1zM945 10h1v1h-1zM941 11h4v1h-4zM940 12h1v1h-1zM936 13h4v1h-4zM935 14h1v1h-1zM931 15h4v1h-4zM930 16h1v1h-1zM926 17h4v1h-4zM925 18h1v1h-1zM919 19h6v1h-6zM917 20h2v1h-2zM914 21h3v1h-3zM912 22h2v1h-2zM909 23h3v1h-3zM907 24h2v1h-2zM904 25h3v1h-3zM902 26h2v1h-2zM899 27h3v1h-3zM897 28h2v1h-2zM894 29h3v1h-3zM892 30h2v1h-2zM889 31h3v1h-3zM887 32h2v1h-2zM884 33h3v1h-3zM882 34h2v1h-2zM879 35h3v1h-3zM877 36h2v1h-2zM871 37h6v1h-6zM870 38h1v1h-1zM866 39h4v1h-4zM865 40h1v1h-1zM861 41h4v1h-4zM860 42h1v1h-1zM856 43h4v1h-4zM855 44h1v1h-1zM849 45h6v1h-6zM847 46h2v1h-2zM843 47h4v1h-4zM842 48h1v1h-1zM838 49h4v1h-4zM836 50h2v1h-2zM835 51h1v1h-1zM833 52h2v1h-2zM831 53h2v1h-2zM829 54h2v1h-2zM818 55h11v1h-11zM817 56h1v1h-1zM813 57h4v1h-4zM812 58h1v1h-1zM808 59h4v1h-4zM807 60h1v1h-1zM803 61h4v1h-4zM802 62h1v1h-1zM798 63h4v1h-4zM797 64h1v1h-1zM790 65h7v1h-7zM788 66h2v1h-2zM785 67h3v1h-3zM783 68h2v1h-2zM781 69h2v1h-2zM779 70h2v1h-2zM775 71h4v1h-4zM773 72h2v1h-2zM771 73h2v1h-2zM769 74h2v1h-2zM763 75h6v1h-6zM762 76h1v1h-1zM761 77h1v1h-1zM760 78h1v1h-1zM755 79h5v1h-5zM753 80h2v1h-2zM751 81h2v1h-2zM749 82h2v1h-2zM745 83h4v1h-4zM744 84h1v1h-1zM740 85h4v1h-4zM739 86h1v1h-1zM732 87h7v1h-7zM729 88h3v1h-3zM726 89h3v1h-3zM724 90h2v1h-2zM722 91h2v1h-2zM721 92h1v1h-1zM710 93h11v1h-11zM709 94h1v1h-1zM695 95h14v1h-14zM693 96h2v1h-2zM682 97h11v1h-11zM679 98h3v1h-3zM677 99h2v1h-2zM675 100h2v1h-2zM673 101h2v1h-2zM671 102h2v1h-2zM668 103h3v1h-3zM666 104h2v1h-2zM665 105h1v1h-1zM664 106h1v1h-1zM660 107h4v1h-4zM659 108h1v1h-1zM653 109h6v1h-6zM651 110h2v1h-2zM642 111h9v1h-9zM641 112h1v1h-1zM637 113h4v1h-4zM635 114h2v1h-2zM634 115h1v1h-1zM631 116h3v1h-3zM628 117h3v1h-3zM626 118h2v1h-2zM624 119h2v1h-2zM623 120h1v1h-1zM615 121h8v1h-8zM613 122h2v1h-2zM599 123h14v1h-14zM597 124h2v1h-2zM595 125h2v1h-2zM593 126h2v1h-2zM592 127h1v1h-1zM591 128h1v1h-1zM587 129h4v1h-4zM586 130h1v1h-1zM585 131h1v1h-1zM584 132h1v1h-1zM583 133h1v1h-1zM583 134h1v1h-1zM575 135h8v1h-8zM573 136h2v1h-2zM567 137h6v1h-6zM566 138h1v1h-1zM562 139h4v1h-4zM561 140h1v1h-1zM557 141h4v1h-4zM556 142h1v1h-1zM550 143h6v1h-6zM548 144h2v1h-2zM541 145h7v1h-7zM539 146h2v1h-2zM537 147h2v1h-2zM535 148h2v1h-2zM529 149h6v1h-6zM528 150h1v1h-1zM520 151h8v1h-8zM518 152h2v1h-2zM517 153h1v1h-1zM515 154h2v1h-2zM509 155h6v1h-6zM506 156h3v1h-3zM504 157h2v1h-2zM503 158h1v1h-1zM494 159h9v1h-9zM492 160h2v1h-2zM491 161h1v1h-1zM489 162h2v1h-2zM486 163h3v1h-3zM483 164h3v1h-3zM481 165h2v1h-2zM480 166h1v1h-1zM479 167h1v1h-1zM479 168h1v1h-1zM478 169h1v1h-1zM476 170h2v1h-2zM471 171h5v1h-5zM471 172h1v1h-1zM470 173h1v1h-1zM470 174h1v1h-1zM461 175h9v1h-9zM459 176h2v1h-2zM456 177h3v1h-3zM455 178h1v1h-1zM454 179h1v1h-1zM453 180h1v1h-1zM449 181h4v1h-4zM448 182h1v1h-1zM441 183h7v1h-7zM440 184h1v1h-1zM431 185h9v1h-9zM430 186h1v1h-1zM421 187h9v1h-9zM420 188h1v1h-1zM416 189h4v1h-4zM415 190h1v1h-1zM413 191h2v1h-2zM412 192h1v1h-1zM411 193h1v1h-1zM410 194h1v1h-1zM407 195h3v1h-3zM405 196h2v1h-2zM401 197h4v1h-4zM400 198h1v1h-1zM396 199h4v1h-4zM395 200h1v1h-1zM391 201h4v1h-4zM390 202h1v1h-1zM376 203h14v1h-14zM375 204h1v1h-1zM368 205h7v1h-7zM366 206h2v1h-2zM364 207h2v1h-2zM361 208h3v1h-3zM359 209h2v1h-2zM358 210h1v1h-1zM357 211h1v1h-1zM356 212h1v1h-1zM355 213h1v1h-1zM351 214h4v1h-4zM350 215h1v1h-1zM346 216h4v1h-4zM344 217h2v1h-2zM333 218h11v1h-11zM330 219h3v1h-3zM326 220h4v1h-4zM324 221h2v1h-2zM321 222h3v1h-3zM319 223h2v1h-2zM315 224h4v1h-4zM314 225h1v1h-1zM306 226h8v1h-8zM304 227h2v1h-2zM301 228h3v1h-3zM299 229h2v1h-2zM295 230h4v1h-4zM294 231h1v1h-1zM290 232h4v1h-4zM288 233h2v1h-2zM286 234h2v1h-2zM283 235h3v1h-3zM281 236h2v1h-2zM279 237h2v1h-2zM268 238h11v1h-11zM267 239h1v1h-1zM253 240h14v1h-14zM252 241h1v1h-1zM240 242h12v1h-12zM239 243h1v1h-1zM230 244h9v1h-9zM229 245h1v1h-1zM228 246h1v1h-1zM226 247h2v1h-2zM220 248h6v1h-6zM219 249h1v1h-1zM215 250h4v1h-4zM214 251h1v1h-1zM213 252h1v1h-1zM211 253h2v1h-2zM210 254h1v1h-1zM209 255h1v1h-1zM205 256h4v1h-4zM204 257h1v1h-1zM196 258h8v1h-8zM194 259h2v1h-2zM188 260h6v1h-6zM186 261h2v1h-2zM180 262h6v1h-6zM179 263h1v1h-1zM175 264h4v1h-4zM173 265h2v1h-2zM172 266h1v1h-1zM171 267h1v1h-1zM170 268h1v1h-1zM169 269h1v1h-1zM165 270h4v1h-4zM163 271h2v1h-2zM162 272h1v1h-1zM160 273h2v1h-2zM157 274h3v1h-3zM155 275h2v1h-2zM153 276h2v1h-2zM151 277h2v1h-2zM139 278h12v1h-12zM138 279h1v1h-1zM129 280h9v1h-9zM127 281h2v1h-2zM125 282h2v1h-2zM123 283h2v1h-2zM122 284h1v1h-1zM121 285h1v1h-1zM112 286h9v1h-9zM111 287h1v1h-1zM107 288h4v1h-4zM106 289h1v1h-1zM102 290h4v1h-4zM101 291h1v1h-1zM100 292h1v1h-1zM98 293h2v1h-2zM93 294h5v1h-5zM92 295h1v1h-1zM92 296h1v1h-1zM91 297h1v1h-1zM91 298h1v1h-1zM90 299h1v1h-1zM90 300h1v1h-1zM89 301h1v1h-1zM89 302h1v1h-1zM89 303h1v1h-1zM88 304h1v1h-1zM88 305h1v1h-1zM88 306h1v1h-1zM87 307h1v1h-1zM87 308h1v1h-1zM86 309h1v1h-1zM86 310h1v1h-1zM86 311h1v1h-1zM86 312h1v1h-1zM85 313h1v1h-1zM85 314h1v1h-1zM85 315h1v1h-1zM84 316h1v1h-1zM84 317h1v1h-1zM83 318h1v1h-1zM83 319h1v1h-1zM83 320h1v1h-1zM83 321h1v1h-1zM82 322h1v1h-1zM82 323h1v1h-1zM82 324h1v1h-1zM82 325h1v1h-1zM82 326h1v1h-1zM81 327h1v1h-1zM81 328h1v1h-1zM81 329h1v1h-1zM81 330h1v1h-1zM80 331h1v1h-1zM80 332h1v1h-1zM80 333h1v1h-1zM80 334h1v1h-1zM79 335h1v1h-1zM79 336h1v1h-1zM78 337h1v1h-1zM78 338h1v1h-1zM77 339h1v1h-1zM77 340h1v1h-1zM77 341h1v1h-1zM76 342h1v1h-1zM76 343h1v1h-1zM76 344h1v1h-1zM76 345h1v1h-1zM76 346h1v1h-1zM76 347h1v1h-1zM75 348h1v1h-1zM75 349h1v1h-1zM75 350h1v1h-1zM75 351h1v1h-1zM74 352h1v1h-1zM74 353h1v1h-1zM73 354h1v1h-1zM72 355h1v1h-1zM72 356h1v1h-1zM71 357h1v1h-1zM71 358h1v1h-1zM71 359h1v1h-1zM71 360h1v1h-1zM70 361h1v1h-1zM70 362h1v1h-1zM70 363h1v1h-1zM70 364h1v1h-1zM70 365h1v1h-1zM69 366h1v1h-1zM69 367h1v1h-1zM68 368h1v1h-1zM68 369h1v1h-1zM67 370h1v1h-1zM67 371h1v1h-1zM67 372h1v1h-1zM66 373h1v1h-1zM66 374h1v1h-1zM66 375h1v1h-1zM66 376h1v1h-1zM66 377h1v1h-1zM66 378h1v1h-1zM66 379h1v1h-1zM65 380h1v1h-1zM65 381h1v1h-1zM65 382h1v1h-1zM64 383h1v1h-1zM64 384h1v1h-1zM64 385h1v1h-1zM63 386h1v1h-1zM63 387h1v1h-1zM63 388h1v1h-1zM63 389h1v1h-1zM62 390h1v1h-1zM62 391h1v1h-1zM62 392h1v1h-1zM61 393h1v1h-1zM61 394h1v1h-1zM61 395h1v1h-1zM61 396h1v1h-1zM61 397h1v1h-1zM60 398h1v1h-1zM60 399h1v1h-1zM60 400h1v1h-1zM59 401h1v1h-1zM58 402h1v1h-1zM58 403h1v1h-1zM57 404h1v1h-1zM56 405h1v1h-1zM55 406h1v1h-1zM53 407h2v1h-2zM50 408h3v1h-3zM48 409h2v1h-2zM45 410h3v1h-3z"/>
</svg>
</body></html>
